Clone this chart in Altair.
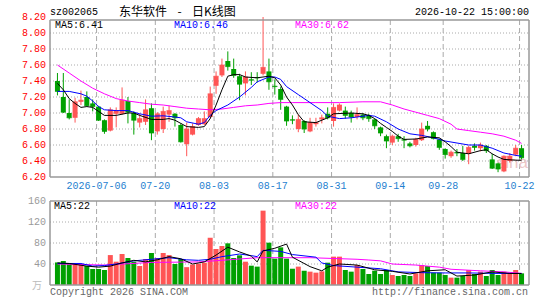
import altair as alt
import pandas as pd

# ---------------- data ----------------
idx = list(range(80))
open_ = [7.40, 7.20, 7.00, 6.94, 7.14, 7.20, 7.12, 7.08, 6.91, 6.78,
         6.99, 6.99, 7.15, 7.00, 6.88, 6.89, 7.06, 6.77, 6.80, 6.98,
         6.99, 6.85, 6.61, 6.73, 6.85, 6.86, 6.95, 7.34, 7.47, 7.65,
         7.55, 7.46, 7.37, 7.42, 7.45, 7.49, 7.52, 7.34, 7.30, 7.08,
         6.92, 6.80, 6.90, 6.77, 6.86, 6.92, 6.99, 6.90, 7.03, 7.03,
         7.00, 6.95, 6.98, 6.97, 6.92, 6.82, 6.71, 6.63, 6.71, 6.67,
         6.62, 6.60, 6.66, 6.84, 6.76, 6.67, 6.55, 6.46, 6.51, 6.50,
         6.49, 6.59, 6.56, 6.59, 6.42, 6.37, 6.27, 6.40, 6.48, 6.56]
close = [7.27, 7.01, 6.94, 7.14, 7.16, 7.09, 7.08, 6.91, 6.77, 7.04,
         7.03, 7.16, 7.01, 6.91, 6.93, 7.04, 6.75, 6.99, 7.02, 7.03,
         6.94, 6.64, 6.80, 6.83, 6.93, 6.93, 7.24, 7.46, 7.60, 7.58,
         7.47, 7.36, 7.45, 7.41, 7.44, 7.57, 7.39, 7.33, 7.17, 6.90,
         6.91, 6.92, 6.80, 6.88, 6.88, 6.94, 6.94, 7.07, 7.10, 6.97,
         6.95, 6.98, 6.94, 6.93, 6.84, 6.75, 6.65, 6.71, 6.68, 6.66,
         6.59, 6.67, 6.80, 6.80, 6.68, 6.57, 6.48, 6.51, 6.50, 6.42,
         6.57, 6.57, 6.60, 6.53, 6.31, 6.30, 6.46, 6.46, 6.56, 6.44]
high = [7.50, 7.50, 7.17, 7.19, 7.28, 7.27, 7.17, 7.09, 6.92, 7.07,
        7.07, 7.32, 7.20, 7.02, 6.99, 7.17, 7.12, 7.01, 7.08, 7.09,
        7.00, 6.87, 6.88, 6.87, 6.95, 7.02, 7.33, 7.52, 7.68, 7.77,
        7.68, 7.49, 7.52, 7.51, 7.51, 8.20, 7.68, 7.42, 7.33, 7.09,
        6.97, 6.98, 6.91, 6.94, 6.94, 6.98, 7.07, 7.12, 7.12, 7.08,
        7.03, 7.07, 7.00, 6.99, 6.93, 6.83, 6.73, 6.73, 6.74, 6.71,
        6.64, 6.69, 6.88, 6.90, 6.77, 6.68, 6.56, 6.53, 6.55, 6.59,
        6.59, 6.62, 6.63, 6.60, 6.49, 6.38, 6.47, 6.50, 6.60, 6.60]
low = [7.22, 7.00, 6.92, 6.88, 7.10, 7.08, 7.02, 6.90, 6.74, 6.77,
       6.82, 6.98, 6.87, 6.73, 6.82, 6.85, 6.66, 6.73, 6.75, 6.89,
       6.83, 6.63, 6.46, 6.72, 6.84, 6.85, 6.93, 7.24, 7.45, 7.53,
       7.44, 7.16, 7.22, 7.35, 7.38, 7.47, 7.29, 7.23, 7.04, 6.84,
       6.86, 6.76, 6.75, 6.76, 6.83, 6.87, 6.92, 6.83, 7.02, 6.93,
       6.88, 6.92, 6.91, 6.89, 6.80, 6.71, 6.56, 6.60, 6.64, 6.56,
       6.57, 6.58, 6.65, 6.77, 6.67, 6.54, 6.43, 6.44, 6.46, 6.40,
       6.36, 6.53, 6.52, 6.50, 6.30, 6.26, 6.26, 6.38, 6.46, 6.42]
volume = [43, 45.7, 40, 40, 40, 36.2, 30.5, 30.5, 28.6, 57,
          44.4, 59, 51.4, 44.4, 36.2, 49.5, 61, 51.4, 61, 57,
          40, 49.5, 34, 39, 40.5, 42.5, 90, 68.6, 74.3, 79.4,
          51.4, 56.5, 44.4, 36.8, 35, 141.6, 80.6, 50.2, 71.7, 50.2,
          31, 35, 27.3, 25.4, 23.5, 26, 42.5, 54, 54, 28.6,
          25.4, 38, 30.5, 21, 27.3, 21, 28.6, 19, 17.1, 19,
          17.1, 22.2, 38, 36.2, 23.5, 23.5, 19, 14, 14, 17.1,
          28.6, 21, 25.4, 17.1, 28.6, 19, 25.4, 22.2, 28.6, 22.2]

ma5_i = [0, 1, 2, 3, 4, 5, 6, 7, 8, 10, 12, 13, 14, 16, 18, 19, 20, 21, 22, 24,
         25, 26, 27, 28, 29, 30, 31, 32, 34, 36, 37, 38, 39, 40, 41, 42, 44, 46, 47, 50,
         52, 53, 54, 55, 56, 57, 58, 59, 61, 63, 65, 66, 67, 68, 70, 72, 73, 74, 75, 76,
         78, 79]
ma5_v = [7.37, 7.29, 7.18, 7.12, 7.07, 7.08, 7.07, 7.02, 6.97, 6.97, 7.00, 7.00, 6.97, 6.92, 6.92, 6.93, 6.91, 6.87, 6.83, 6.82,
         6.83, 6.93, 7.10, 7.29, 7.46, 7.48, 7.48, 7.45, 7.44, 7.46, 7.44, 7.35, 7.20, 7.10, 6.98, 6.89, 6.88, 6.94, 6.99, 7.00,
         6.99, 6.97, 6.93, 6.87, 6.82, 6.77, 6.71, 6.67, 6.675, 6.70, 6.69, 6.64, 6.58, 6.51, 6.49, 6.53, 6.54, 6.49, 6.45, 6.42,
         6.41, 6.41]
ma10_i = [0, 2, 4, 5, 6, 7, 8, 10, 12, 14, 16, 18, 20, 21, 22, 24, 25, 26, 27, 29,
          31, 33, 34, 36, 37, 38, 39, 41, 43, 45, 46, 48, 50, 53, 54, 56, 58, 60, 62, 64,
          66, 70, 72, 74, 76, 78, 79]
ma10_v = [7.27, 7.27, 7.24, 7.21, 7.15, 7.08, 7.04, 7.03, 7.03, 6.99, 6.96, 6.965, 6.95, 6.94, 6.89, 6.86, 6.88, 6.97, 7.03, 7.10,
          7.20, 7.32, 7.39, 7.45, 7.45, 7.42, 7.33, 7.23, 7.13, 7.03, 6.96, 6.93, 6.94, 6.97, 6.96, 6.89, 6.80, 6.74, 6.72, 6.69,
          6.65, 6.60, 6.60, 6.56, 6.50, 6.47, 6.46]
ma30_i = [0, 2, 4, 6, 8, 10, 12, 14, 16, 18, 20, 22, 24, 26, 28, 30, 32, 34, 36, 38,
          40, 44, 48, 52, 55, 57, 59, 61, 63, 65, 67, 68, 70, 72, 74, 76, 78, 79]
ma30_v = [7.60, 7.50, 7.40, 7.31, 7.24, 7.18, 7.15, 7.13, 7.11, 7.10, 7.08, 7.06, 7.05, 7.04, 7.05, 7.07, 7.09, 7.10, 7.12, 7.13,
          7.13, 7.13, 7.13, 7.14, 7.14, 7.10, 7.05, 7.01, 6.97, 6.93, 6.86, 6.80, 6.78, 6.76, 6.74, 6.71, 6.66, 6.62]

vma5_i = [0, 2, 5, 7, 9, 11, 13, 15, 17, 19, 21, 23, 25, 27, 29, 31, 33, 34, 35, 37,
          39, 40, 43, 45, 46, 48, 51, 54, 57, 60, 63, 66, 68, 71, 74, 77, 79]
vma5_v = [42, 41, 36, 34, 36, 42, 47, 44, 48, 54, 50, 40, 44, 57, 72, 63, 55, 44, 65, 70,
          78, 53, 35, 27, 34, 40, 38, 29, 26, 21, 27, 29, 17, 19, 25, 22, 22]
vma10_i = [0, 4, 6, 8, 10, 13, 16, 19, 22, 24, 26, 28, 31, 33, 34, 35, 38, 40, 44, 45,
           47, 51, 55, 58, 62, 66, 70, 75, 79]
vma10_v = [41, 41, 36, 37, 40, 46, 49, 52, 48, 47, 49, 54, 59, 56, 54, 66, 64, 58, 53, 42,
           37, 34, 31, 25, 23.5, 23, 23, 22, 22]
vma30_i = [0, 8, 16, 24, 28, 34, 43, 51, 53, 55, 57, 61, 65, 67, 72, 76, 79]
vma30_v = [40, 38, 43, 44, 47, 52, 52, 49, 47.6, 46, 40, 38, 34, 30, 27, 25, 22]

tick_idx = [7, 17, 27, 37, 47, 57, 66, 79]
tick_labels = ["2026-07-06", "07-20", "08-03", "08-17", "08-31", "09-14", "09-28", "10-22"]
price_ticks = [6.2, 6.4, 6.6, 6.8, 7.0, 7.2, 7.4, 7.6, 7.8, 8.0, 8.2]
price_grid = [6.4, 6.6, 6.8, 7.0, 7.2, 7.4, 7.6, 7.8, 8.0]
vol_ticks = [40, 80, 120, 160]
vol_grid = [40, 80, 120]

code = "sz002065"
name = "东华软件"
kind = "日K线图"
stamp = "2026-10-22 15:00:00"
ma_price_labels = ["MA5:6.41", "MA10:6.46", "MA30:6.62"]
ma_vol_labels = ["MA5:22", "MA10:22", "MA30:22"]
unit = "万"

# ---------------- styling / layout ----------------
W = 479          # plot width  (x 50 .. 529)
H = 268          # plot height (y 17 .. 285)
P_TOP, P_BOT = 3, 160      # price panel frame (px inside plot)
V_TOP, V_BOT = 184, 268    # volume panel frame
RED = "#ff5555"
GREEN = "#00a000"
MONO = "Liberation Mono"
CJK = "Noto Sans CJK SC"
GRIDC = "#aaaaaa"
BORDER = "#999999"
DATEC = "#1f7fd0"
C5, C10, C30 = "#000000", "#0000ff", "#ff00ff"

# price: 6.2 -> px 160, 8.2 -> px 0 ; volume: 0 -> px 268, 160 -> px 184
ys = alt.Scale(domain=[8.2 - H / 80.0, 8.2], nice=False, zero=False)
vs = alt.Scale(domain=[0, 160 * H / 84.0], nice=False, zero=False)
xs = alt.Scale(domain=[-0.41667, 79.41667], nice=False, zero=False)

df = pd.DataFrame({"i": idx, "o": open_, "c": close, "h": high, "l": low, "v": volume})
df["col"] = [RED if c > o else GREEN for o, c in zip(open_, close)]
ticks_df = pd.DataFrame({"i": tick_idx, "lab": tick_labels})
one = pd.DataFrame({"a": [0]})
X = alt.X("i:Q", scale=xs, axis=None)


def line_df(ii, vv):
    return pd.DataFrame({"i": ii, "val": vv})


def txt(s, x, y, color="#000000", align="left", font=MONO, size=10):
    return alt.Chart(pd.DataFrame({"t": [s]})).mark_text(
        align=align, baseline="middle", font=font, fontSize=size, color=color).encode(
        text="t:N", x=alt.value(x), y=alt.value(y))


def frame(top, bot):
    b = alt.Chart(one)
    kw = dict(color=BORDER, strokeWidth=1.5)
    return [
        b.mark_rule(**kw).encode(x=alt.value(0), x2=alt.value(W), y=alt.value(top)),
        b.mark_rule(**kw).encode(x=alt.value(0), x2=alt.value(W), y=alt.value(bot)),
        b.mark_rule(**kw).encode(x=alt.value(0), y=alt.value(top), y2=alt.value(bot)),
        b.mark_rule(**kw).encode(x=alt.value(W), y=alt.value(top), y2=alt.value(bot)),
    ]


# ---------- price panel ----------
p_grid = alt.Chart(pd.DataFrame({"g": price_grid})).mark_rule(
    color=GRIDC, strokeDash=[1, 2], strokeWidth=1).encode(
    y=alt.Y("g:Q", scale=ys, axis=None), x=alt.value(0), x2=alt.value(W))
p_vgrid = alt.Chart(ticks_df).mark_rule(color=GRIDC, strokeDash=[5, 3], strokeWidth=1, xOffset=-2).encode(
    x=X, y=alt.value(P_TOP), y2=alt.value(P_BOT))
p_labels = alt.Chart(pd.DataFrame({"g": price_ticks})).mark_text(
    align="right", baseline="middle", font=MONO, fontSize=10, color="#ff0000").encode(
    y=alt.Y("g:Q", scale=ys, axis=None), x=alt.value(-4), text=alt.Text("g:Q", format=".2f"))
wmark = txt("sina", W - 1, 146, color="#ecc6c6", align="right", font="Liberation Sans", size=17)
wick = alt.Chart(df).mark_rule(strokeWidth=1).encode(
    x=X, y=alt.Y("l:Q", scale=ys, axis=None), y2="h:Q", color=alt.Color("col:N", scale=None))
body = alt.Chart(df).mark_bar(size=5).encode(
    x=X, y=alt.Y("o:Q", scale=ys, axis=None), y2="c:Q", color=alt.Color("col:N", scale=None))
flat = alt.Chart(df).mark_tick(orient="horizontal", size=5, thickness=1).encode(
    x=X, y=alt.Y("c:Q", scale=ys, axis=None), color=alt.Color("col:N", scale=None))
ma_layers = [
    alt.Chart(line_df(ii, vv)).mark_line(strokeWidth=1, color=cc).encode(
        x=X, y=alt.Y("val:Q", scale=ys, axis=None))
    for ii, vv, cc in [(ma30_i, ma30_v, C30), (ma10_i, ma10_v, C10), (ma5_i, ma5_v, C5)]
]
x_labels = alt.Chart(ticks_df).mark_text(font=MONO, fontSize=10, color=DATEC, baseline="middle",
                                         align="center", dx=-2).encode(
    x=X, y=alt.value(169), text="lab:N")
price_texts = [
    txt(code, 0, -5),
    txt(name, 69, -5, font=CJK, size=12),
    txt("-", 129.5, -5, align="center", font=CJK, size=12),
    txt(kind, 142, -5, font=CJK, size=12),
    txt(stamp, W, -5, align="right"),
    txt(ma_price_labels[0], 5, 8, color=C5),
    txt(ma_price_labels[1], 124, 8, color=C10),
    txt(ma_price_labels[2], 245, 8, color=C30),
]
price = alt.layer(p_grid, p_vgrid, p_labels, wmark, wick, body, flat, *ma_layers,
                  *frame(P_TOP, P_BOT), x_labels, *price_texts)

# ---------- volume panel ----------
v_grid = alt.Chart(pd.DataFrame({"g": vol_grid})).mark_rule(
    color=GRIDC, strokeDash=[1, 2], strokeWidth=1).encode(
    y=alt.Y("g:Q", scale=vs, axis=None), x=alt.value(0), x2=alt.value(W))
v_vgrid = alt.Chart(ticks_df).mark_rule(color=GRIDC, strokeDash=[5, 3], strokeWidth=1, xOffset=-2).encode(
    x=X, y=alt.value(V_TOP), y2=alt.value(V_BOT))
v_labels = alt.Chart(pd.DataFrame({"g": vol_ticks})).mark_text(
    align="right", baseline="middle", font=MONO, fontSize=10, color="#9a9a9a").encode(
    y=alt.Y("g:Q", scale=vs, axis=None), x=alt.value(-4), text=alt.Text("g:Q", format="d"))
vbars = alt.Chart(df).mark_bar(size=5).encode(
    x=X, y=alt.Y("v:Q", scale=vs, axis=None), y2=alt.datum(0), color=alt.Color("col:N", scale=None))
vma_layers = [
    alt.Chart(line_df(ii, vv)).mark_line(strokeWidth=1, color=cc).encode(
        x=X, y=alt.Y("val:Q", scale=vs, axis=None))
    for ii, vv, cc in [(vma30_i, vma30_v, C30), (vma10_i, vma10_v, C10), (vma5_i, vma5_v, C5)]
]
vol_texts = [
    txt(ma_vol_labels[0], 4, V_TOP + 5, color=C5),
    txt(ma_vol_labels[1], 124, V_TOP + 5, color=C10),
    txt(ma_vol_labels[2], 245, V_TOP + 5, color=C30),
    txt("Copyright 2026 SINA.COM", 0, V_BOT + 7, color="#666666"),
    txt("http://finance.sina.com.cn", W - 1, V_BOT + 7, color="#666666", align="right"),
    txt(unit, -8, V_BOT + 1, color="#bbbbbb", align="right", font=CJK, size=10),
]
vol = alt.layer(v_grid, v_vgrid, v_labels, vbars, *vma_layers, *frame(V_TOP, V_BOT), *vol_texts)

chart = alt.layer(price, vol).resolve_scale(y="independent").properties(
    width=W, height=H,
    autosize=alt.AutoSizeParams(type="none"),
    padding={"left": 50, "top": 17, "right": 16, "bottom": 15},
    background="#ffffff",
).configure_view(stroke=None)

chart.save("out.html", embed_options={"renderer": "svg", "actions": False})
